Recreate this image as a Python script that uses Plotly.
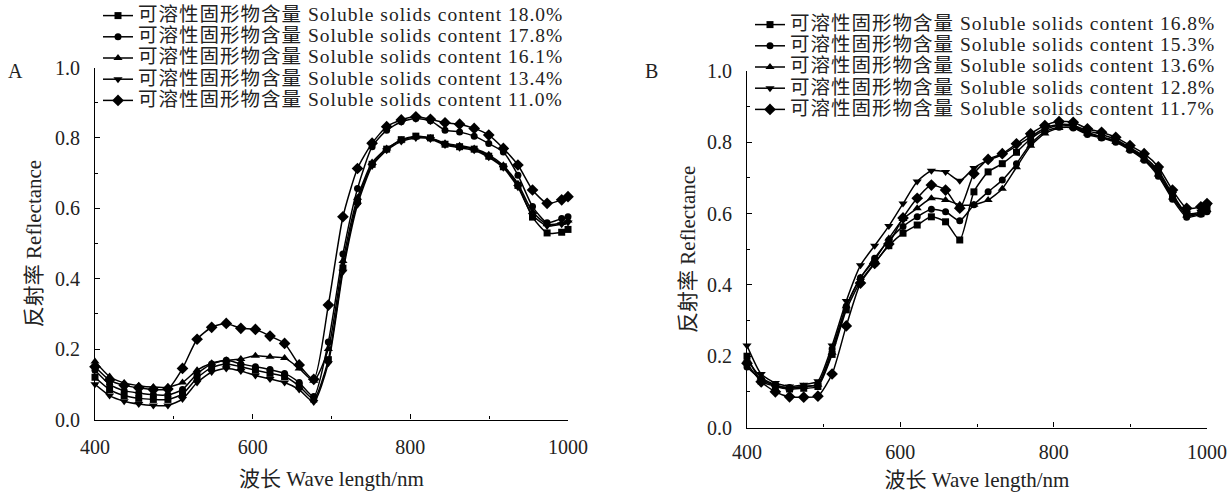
import plotly.graph_objects as go

# Wavelength sampling points (nm) shared by both panels
wavelength = [400, 418.5, 437, 455.5, 474, 492.5, 511, 529.5, 548, 566.5, 585,
              603.5, 622, 640.5, 659, 677.5, 696, 714.5, 733, 751.5, 770, 788.5,
              807, 825.5, 844, 862.5, 881, 899.5, 918, 936.5, 955, 973.5, 992, 1000]

# Panel A reflectance spectra
a_labels = ["18.0%", "17.8%", "16.1%", "13.4%", "11.0%"]
a_ssc_180 = [0.12, 0.085, 0.068, 0.06, 0.057, 0.057, 0.072, 0.118, 0.148, 0.158, 0.15,
             0.14, 0.131, 0.122, 0.095, 0.058, 0.17, 0.43, 0.62, 0.725, 0.768, 0.795,
             0.805, 0.80, 0.782, 0.775, 0.768, 0.748, 0.718, 0.665, 0.575, 0.53, 0.532, 0.54]
a_ssc_178 = [0.14, 0.10, 0.082, 0.075, 0.07, 0.07, 0.085, 0.13, 0.158, 0.168, 0.158,
             0.15, 0.142, 0.131, 0.105, 0.065, 0.22, 0.47, 0.656, 0.775, 0.822, 0.846,
             0.855, 0.849, 0.822, 0.817, 0.805, 0.784, 0.76, 0.694, 0.605, 0.559, 0.571, 0.576]
a_ssc_161 = [0.165, 0.122, 0.104, 0.096, 0.092, 0.092, 0.105, 0.14, 0.16, 0.168, 0.172,
             0.181, 0.178, 0.175, 0.145, 0.11, 0.20, 0.45, 0.63, 0.73, 0.77, 0.793,
             0.803, 0.80, 0.785, 0.778, 0.77, 0.752, 0.722, 0.67, 0.59, 0.555, 0.558, 0.565]
a_ssc_134 = [0.10, 0.068, 0.052, 0.044, 0.04, 0.04, 0.058, 0.105, 0.135, 0.145, 0.138,
             0.125, 0.115, 0.105, 0.085, 0.05, 0.16, 0.42, 0.61, 0.72, 0.765, 0.79,
             0.80, 0.797, 0.78, 0.772, 0.765, 0.745, 0.715, 0.66, 0.58, 0.55, 0.555, 0.56]
a_ssc_110 = [0.15, 0.112, 0.097, 0.09, 0.085, 0.087, 0.145, 0.228, 0.262, 0.273, 0.259,
             0.256, 0.237, 0.216, 0.155, 0.114, 0.325, 0.576, 0.713, 0.785, 0.832, 0.851,
             0.860, 0.853, 0.843, 0.839, 0.827, 0.808, 0.770, 0.723, 0.652, 0.614, 0.624, 0.633]

# Panel B reflectance spectra
b_labels = ["16.8%", "15.3%", "13.6%", "12.8%", "11.7%"]
b_ssc_168 = [0.20, 0.13, 0.115, 0.108, 0.11, 0.115, 0.205, 0.33, 0.41, 0.462, 0.51,
             0.545, 0.568, 0.591, 0.577, 0.526, 0.661, 0.717, 0.74, 0.772, 0.81, 0.835,
             0.848, 0.845, 0.828, 0.815, 0.805, 0.782, 0.755, 0.715, 0.65, 0.60, 0.60, 0.612]
b_ssc_153 = [0.17, 0.135, 0.118, 0.112, 0.115, 0.122, 0.22, 0.34, 0.42, 0.475, 0.525,
             0.564, 0.591, 0.612, 0.605, 0.58, 0.625, 0.661, 0.694, 0.74, 0.796, 0.83,
             0.842, 0.84, 0.822, 0.812, 0.80, 0.778, 0.75, 0.705, 0.64, 0.59, 0.598, 0.605]
b_ssc_136 = [0.19, 0.14, 0.12, 0.11, 0.115, 0.12, 0.21, 0.34, 0.42, 0.47, 0.53,
             0.585, 0.615, 0.643, 0.638, 0.625, 0.625, 0.638, 0.67, 0.73, 0.79, 0.825,
             0.84, 0.842, 0.825, 0.815, 0.802, 0.78, 0.752, 0.71, 0.645, 0.595, 0.60, 0.61]
b_ssc_128 = [0.23, 0.15, 0.125, 0.115, 0.12, 0.13, 0.23, 0.355, 0.455, 0.51, 0.565,
             0.628, 0.69, 0.72, 0.717, 0.692, 0.728, 0.75, 0.765, 0.79, 0.815, 0.84,
             0.85, 0.848, 0.832, 0.822, 0.808, 0.785, 0.76, 0.72, 0.655, 0.60, 0.605, 0.62]
b_ssc_117 = [0.18, 0.128, 0.10, 0.086, 0.085, 0.088, 0.15, 0.285, 0.405, 0.46, 0.515,
             0.588, 0.643, 0.68, 0.666, 0.615, 0.712, 0.752, 0.768, 0.796, 0.824, 0.847,
             0.858, 0.856, 0.838, 0.828, 0.814, 0.791, 0.768, 0.731, 0.666, 0.615, 0.619, 0.628]

symbols = ["square", "circle", "triangle-up", "triangle-down", "diamond"]
sizes = [7, 7, 8, 8, 9]
name_prefix = "可溶性固形物含量 Soluble solids content "

SERIF = "Liberation Serif, Noto Sans CJK SC, serif"
TXT = "#222222"
W, H = 1232, 492

fig = go.Figure()

panels = [
    ("x", "y", "legend", a_labels, [a_ssc_180, a_ssc_178, a_ssc_161, a_ssc_134, a_ssc_110]),
    ("x2", "y2", "legend2", b_labels, [b_ssc_168, b_ssc_153, b_ssc_136, b_ssc_128, b_ssc_117]),
]
for xa, ya, leg, labels, series in panels:
    for lab, vals, sym, sz in zip(labels, series, symbols, sizes):
        fig.add_trace(go.Scatter(
            x=wavelength, y=vals, xaxis=xa, yaxis=ya, legend=leg,
            mode="lines+markers",
            name=(f'<span style="font-size:19.5px;letter-spacing:1px">'
                  f'{name_prefix}{lab}</span>'),
            line=dict(color="black", width=1.5, shape="spline", smoothing=0.6),
            marker=dict(symbol=sym, size=sz, color="black", line=dict(width=0)),
            cliponaxis=False,
        ))


def px_x(p):
    return p / W


def px_y(p):
    return 1 - p / H


axis_common = dict(
    automargin=False,
    showline=True, linecolor="black", linewidth=1.2, mirror=False,
    showgrid=False, zeroline=False, ticks="inside", ticklen=5,
    tickcolor="black", tickwidth=1.2,
    tickfont=dict(family=SERIF, size=20, color=TXT),
)


def x_axis(dom, anchor, label_gap, title_gap):
    return dict(axis_common, domain=dom, anchor=anchor,
                range=[400, 1000], tick0=400, dtick=200,
                minor=dict(tick0=400, dtick=100, ticks="inside", ticklen=3,
                           tickcolor="black", tickwidth=1.2),
                ticklabelstandoff=label_gap,
                title=dict(text="波长 Wave length/nm",
                           font=dict(family=SERIF, size=21, color=TXT),
                           standoff=title_gap))


def y_axis(dom, anchor, label_gap, title_gap):
    return dict(axis_common, domain=dom, anchor=anchor,
                range=[0, 1], tick0=0, dtick=0.2, tickformat=".1f",
                minor=dict(tick0=0, dtick=0.1, ticks="inside", ticklen=3,
                           tickcolor="black", tickwidth=1.2),
                ticklabelstandoff=label_gap,
                title=dict(text="反射率 Reflectance",
                           font=dict(family=SERIF, size=21, color=TXT),
                           standoff=title_gap))


legend_common = dict(xanchor="left", yanchor="top",
                     font=dict(family=SERIF, size=14, color=TXT),
                     bgcolor="rgba(0,0,0,0)", borderwidth=0, itemwidth=30,
                     tracegroupgap=0)

fig.update_layout(
    width=W, height=H,
    margin=dict(l=0, r=0, t=0, b=0, autoexpand=False),
    paper_bgcolor="white", plot_bgcolor="white",
    font=dict(family=SERIF, color=TXT),
    showlegend=True,
    xaxis=x_axis([px_x(95), px_x(568)], "y", 9, 14),
    yaxis=y_axis([px_y(419.5), px_y(67.5)], "x", 10, 7),
    xaxis2=x_axis([px_x(747), px_x(1207)], "y2", 6, 14),
    yaxis2=y_axis([px_y(427.5), px_y(71)], "x2", 10, 5),
    legend=dict(legend_common, x=px_x(98), y=px_y(0)),
    legend2=dict(legend_common, x=px_x(750), y=px_y(9)),
    annotations=[
        dict(text="A", x=px_x(15), y=px_y(71), xref="paper", yref="paper",
             xanchor="center", yanchor="middle", showarrow=False,
             font=dict(family=SERIF, size=20, color=TXT)),
        dict(text="B", x=px_x(651), y=px_y(71), xref="paper", yref="paper",
             xanchor="center", yanchor="middle", showarrow=False,
             font=dict(family=SERIF, size=20, color=TXT)),
    ],
)

fig.write_html("out.html")
